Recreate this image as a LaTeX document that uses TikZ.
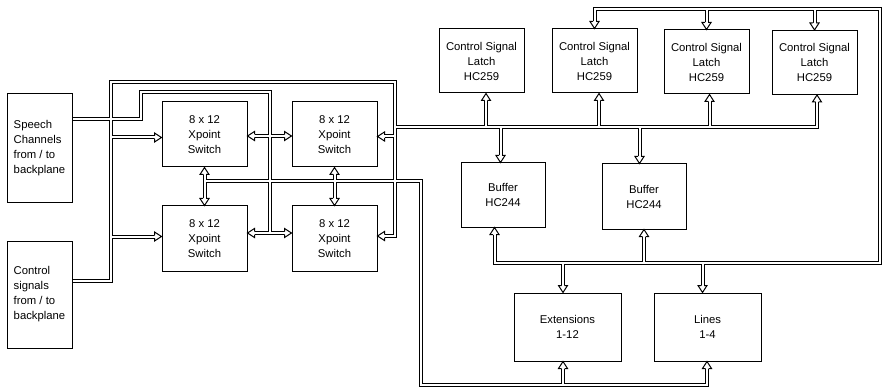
\documentclass[tikz,border=0pt]{standalone}
\usepackage{fontspec}
\setmainfont{Liberation Sans}
\usetikzlibrary{calc}
\pgfdeclarelayer{bg}
\pgfsetlayers{bg,main}
\begin{document}
\begin{tikzpicture}[x=1pt,y=-1pt,
  box/.style={draw=black, line width=1pt, fill=white, inner sep=0pt, align=center,
    font=\fontsize{11.3}{15}\selectfont},
  wire/.style={},
  ahead/.pic={\filldraw[fill=white, draw=black, line width=1pt, line join=miter]
     (-7pt,1.5pt) -- (-7pt,4.5pt) -- (0pt,0pt) -- (-7pt,-4.5pt) -- (-7pt,-1.5pt);}
]
\useasboundingbox (0,0) rectangle (882,387);

% ---- boxes
\node[box, minimum width=65pt, minimum height=109pt, align=left] (sp) at (39.5,148.5) {Speech\\Channels\\from / to\\backplane};
\node[box, minimum width=65pt, minimum height=107pt, align=left] (cs) at (39.5,294.5) {Control\\signals\\from / to\\backplane};
\node[box, minimum width=85pt, minimum height=65pt] (tl) at (204.5,134.5) {8 x 12\\Xpoint\\Switch};
\node[box, minimum width=85pt, minimum height=65pt] (tr) at (334.5,134.5) {8 x 12\\Xpoint\\Switch};
\node[box, minimum width=85pt, minimum height=65pt] (bl) at (204.5,238.5) {8 x 12\\Xpoint\\Switch};
\node[box, minimum width=85pt, minimum height=65pt] (br) at (334.5,238.5) {8 x 12\\Xpoint\\Switch};
\node[box, minimum width=85pt, minimum height=64pt] (l1) at (481.5,61) {Control Signal\\Latch\\HC259};
\node[box, minimum width=85pt, minimum height=64pt] (l2) at (594.5,61) {Control Signal\\Latch\\HC259};
\node[box, minimum width=85pt, minimum height=64pt] (l3) at (706.5,62) {Control Signal\\Latch\\HC259};
\node[box, minimum width=85pt, minimum height=64pt] (l4) at (814.5,62.5) {Control Signal\\Latch\\HC259};
\node[box, minimum width=84pt, minimum height=64pt] (b1) at (503,195) {Buffer\\HC244};
\node[box, minimum width=84pt, minimum height=65pt] (b2) at (644,196.5) {Buffer\\HC244};
\node[box, minimum width=107pt, minimum height=68pt] (ex) at (567.5,327) {Extensions\\1-12};
\node[box, minimum width=107pt, minimum height=68pt] (ln) at (707.5,327) {Lines\\1-4};

% ---- junction coordinates
\coordinate (spA) at (141,92.5);
\coordinate (spB) at (270,233);
\coordinate (ctA) at (110.5,82.5);
\coordinate (ctB) at (394.5,236);
\coordinate (lbus) at (394.5,127);
\coordinate (tbus) at (880,9);
\coordinate (bbus) at (494.5,262.5);
\coordinate (xbus) at (421,385);

\newcommand\wirepaths{%
  % speech channels
  \path[wire] (sp.east |- 0,119.5) -| (spA) -| (spB);
  % switch interconnections
  \path[wire, shorten <=7pt, shorten >=7pt] (tl.east |- 0,136) -- (tr.west |- 0,136);
  \path[wire, shorten <=7pt, shorten >=7pt] (bl.east |- 0,233) -- (br.west |- 0,233);
  \path[wire, shorten <=7pt, shorten >=7pt] (tl.south) -- (bl.north);
  \path[wire, shorten <=7pt, shorten >=7pt] (tr.south) -- (br.north);
  % control signals
  \path[wire, shorten >=7pt] (cs.east |- 0,280.5) -| (ctA) -| (ctB) -- (br.east |- ctB);
  \path[wire, shorten >=7pt] (110.5,137.5) -- (tl.west |- 0,137.5);
  \path[wire, shorten >=7pt] (110.5,236.5) -- (bl.west |- 0,236.5);
  \path[wire, shorten >=7pt] (394.5,136.5) -- (tr.east |- 0,136.5);
  % latch / buffer bus
  \path[wire, shorten >=7pt] (lbus) -| (l4.south -| 817,0);
  \path[wire, shorten >=7pt] (486,127) -- (l1.south -| 486,0);
  \path[wire, shorten >=7pt] (599,127) -- (l2.south -| 599,0);
  \path[wire, shorten >=7pt] (709.5,127) -- (l3.south -| 709.5,0);
  \path[wire, shorten >=7pt] (500.5,127) -- (b1.north -| 500.5,0);
  \path[wire, shorten >=7pt] (639.5,127) -- (b2.north -| 639.5,0);
  % top bus
  \path[wire, shorten <=7pt, shorten >=7pt] (l2.north) |- (tbus) |- (bbus) -- (b1.south -| bbus);
  \path[wire, shorten >=7pt] (l3.north |- tbus) -- (l3.north);
  \path[wire, shorten >=7pt] (l4.north |- tbus) -- (l4.north);
  \path[wire, shorten >=7pt] (b2.south |- bbus) -- (b2.south);
  \path[wire, shorten >=7pt] (563,262.5) -- (ex.north -| 563,0);
  \path[wire, shorten >=7pt] (702.5,262.5) -- (ln.north -| 702.5,0);
  % bottom bus
  \path[wire, shorten >=7pt] (tl.south |- 0,181) -| (xbus) -| (ln.south -| 707,0);
  \path[wire, shorten >=7pt] (563,385) -- (ex.south -| 563,0);
}

\begin{pgfonlayer}{bg}
  \begin{scope}[wire/.style={draw=black, line width=4pt}]
    \wirepaths
  \end{scope}
  \begin{scope}[wire/.style={draw=white, line width=2pt}]
    \wirepaths
  \end{scope}
\end{pgfonlayer}

% ---- arrow heads
\pic[rotate=180] at (tl.east |- 0,136) {ahead};
\pic at (tr.west |- 0,136) {ahead};
\pic[rotate=180] at (bl.east |- 0,233) {ahead};
\pic at (br.west |- 0,233) {ahead};
\pic[rotate=90] at (tl.south) {ahead};
\pic[rotate=-90] at (bl.north) {ahead};
\pic[rotate=90] at (tr.south) {ahead};
\pic[rotate=-90] at (br.north) {ahead};
\pic at (tl.west |- 0,137.5) {ahead};
\pic at (bl.west |- 0,236.5) {ahead};
\pic[rotate=180] at (tr.east |- 0,136.5) {ahead};
\pic[rotate=180] at (br.east |- ctB) {ahead};
\pic[rotate=90] at (l1.south -| 486,0) {ahead};
\pic[rotate=90] at (l2.south -| 599,0) {ahead};
\pic[rotate=90] at (l3.south -| 709.5,0) {ahead};
\pic[rotate=90] at (l4.south -| 817,0) {ahead};
\pic[rotate=-90] at (b1.north -| 500.5,0) {ahead};
\pic[rotate=-90] at (b2.north -| 639.5,0) {ahead};
\pic[rotate=-90] at (l2.north) {ahead};
\pic[rotate=-90] at (l3.north) {ahead};
\pic[rotate=-90] at (l4.north) {ahead};
\pic[rotate=90] at (b1.south -| bbus) {ahead};
\pic[rotate=90] at (b2.south) {ahead};
\pic[rotate=-90] at (ex.north -| 563,0) {ahead};
\pic[rotate=-90] at (ln.north -| 702.5,0) {ahead};
\pic[rotate=90] at (ex.south -| 563,0) {ahead};
\pic[rotate=90] at (ln.south -| 707,0) {ahead};
\end{tikzpicture}
\end{document}
